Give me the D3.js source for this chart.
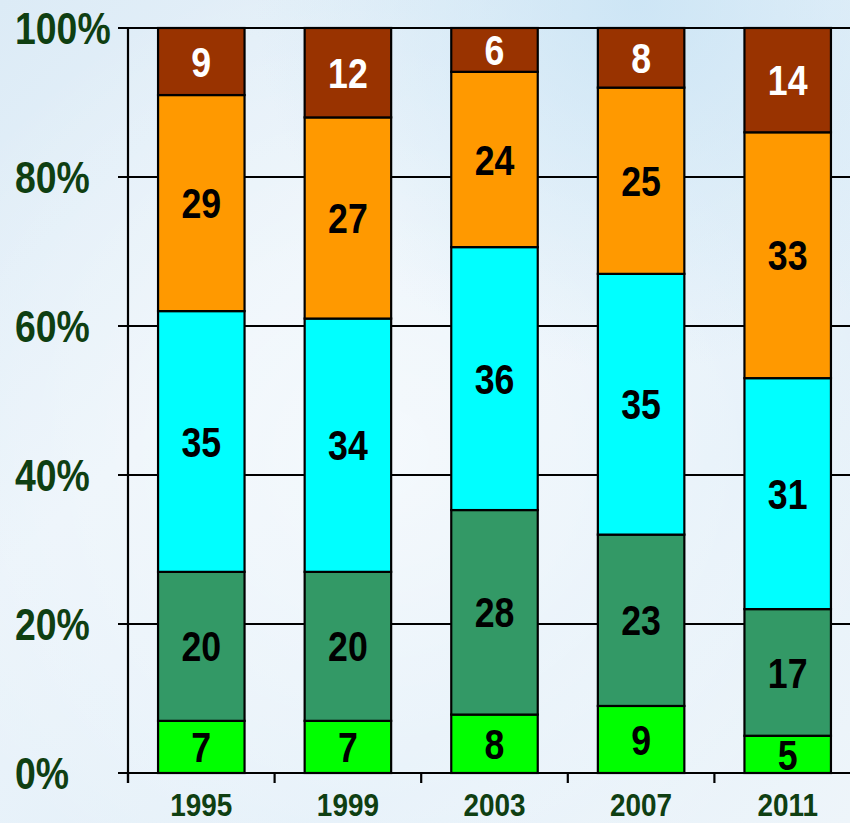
<!DOCTYPE html>
<html>
<head>
<meta charset="utf-8">
<script src="https://cdn.jsdelivr.net/npm/d3@7"></script>
<style>
  html, body { margin: 0; padding: 0; }
  body { width: 850px; height: 823px; overflow: hidden; }
  svg { display: block; }
</style>
</head>
<body>
<svg id="chart" width="850" height="823"></svg>
<script>
// Survey years along the x axis
const years = ["1995", "1999", "2003", "2007", "2011"];

// Shares per year, listed from the bottom segment to the top segment
const seriesA = [7, 7, 8, 9, 5];      // bright green
const seriesB = [20, 20, 28, 23, 17]; // sea green
const seriesC = [35, 34, 36, 35, 31]; // cyan
const seriesD = [29, 27, 24, 25, 33]; // orange
const seriesE = [9, 12, 6, 8, 14];    // brown

const seriesKeys = ["a", "b", "c", "d", "e"];
const seriesValues = [seriesA, seriesB, seriesC, seriesD, seriesE];
const seriesColors = ["#00ff00", "#339966", "#00ffff", "#ff9900", "#993300"];
const labelColors = ["#000000", "#000000", "#000000", "#000000", "#ffffff"];

const yTicks = [0, 0.2, 0.4, 0.6, 0.8, 1];
const yTickLabels = ["0%", "20%", "40%", "60%", "80%", "100%"];

const W = 850, H = 823;
const svg = d3.select("#chart");
const FONT = "'Liberation Sans', Arial, Helvetica, sans-serif";
const SQUEEZE = 0.85;

// Soft pale-blue backdrop
const defs = svg.append("defs");
const bg = defs.append("linearGradient").attr("id", "bg")
  .attr("x1", "0").attr("y1", "0").attr("x2", "1").attr("y2", "1");
bg.append("stop").attr("offset", "0").attr("stop-color", "#dcebf6");
bg.append("stop").attr("offset", "0.35").attr("stop-color", "#eaf3fa");
bg.append("stop").attr("offset", "0.7").attr("stop-color", "#e4f0f9");
bg.append("stop").attr("offset", "1").attr("stop-color", "#eef5fa");
const glow = defs.append("radialGradient").attr("id", "glow")
  .attr("cx", "0.45").attr("cy", "0.55").attr("r", "0.6");
glow.append("stop").attr("offset", "0").attr("stop-color", "#ffffff").attr("stop-opacity", 0.55);
glow.append("stop").attr("offset", "1").attr("stop-color", "#ffffff").attr("stop-opacity", 0);
const topTint = defs.append("radialGradient").attr("id", "topTint")
  .attr("cx", "0.75").attr("cy", "0").attr("r", "0.45");
topTint.append("stop").attr("offset", "0").attr("stop-color", "#c6e2f4").attr("stop-opacity", 0.8);
topTint.append("stop").attr("offset", "1").attr("stop-color", "#c6e2f4").attr("stop-opacity", 0);

svg.append("rect").attr("width", W).attr("height", H).attr("fill", "url(#bg)");
svg.append("rect").attr("width", W).attr("height", H).attr("fill", "url(#glow)");
svg.append("rect").attr("width", W).attr("height", H).attr("fill", "url(#topTint)");

// Scales
const x0 = 128, y0 = 773, yTop = 28;
const x = d3.scaleBand().domain(years).range([x0, x0 + 5 * 146.6])
  .paddingInner(0.41).paddingOuter(0.205);
const y = d3.scaleLinear().domain([0, 1]).range([y0, yTop]);

// Stack normalised to 100%
const table = years.map((yr, i) => {
  const row = { year: yr };
  seriesKeys.forEach((k, j) => { row[k] = seriesValues[j][i]; });
  return row;
});
const stacked = d3.stack().keys(seriesKeys).offset(d3.stackOffsetExpand)(table);

// Horizontal gridlines with left ticks
svg.append("g").selectAll("line").data(yTicks).join("line")
  .attr("x1", x0 - 10).attr("x2", W)
  .attr("y1", d => y(d)).attr("y2", d => y(d))
  .attr("stroke", "#000").attr("stroke-width", 2);

// Bars
const layers = svg.append("g").selectAll("g").data(stacked).join("g")
  .attr("fill", (d, i) => seriesColors[i]);
layers.selectAll("rect").data(d => d).join("rect")
  .attr("x", d => x(d.data.year))
  .attr("width", x.bandwidth())
  .attr("y", d => y(d[1]))
  .attr("height", d => y(d[0]) - y(d[1]))
  .attr("stroke", "#000").attr("stroke-width", 2.2);

// Segment value labels
stacked.forEach((layer, j) => {
  svg.append("g").selectAll("text").data(layer).join("text")
    .attr("transform", d => `translate(${x(d.data.year) + x.bandwidth() / 2},${(y(d[0]) + y(d[1])) / 2}) scale(${SQUEEZE},1)`)
    .attr("dy", "0.36em")
    .attr("text-anchor", "middle")
    .attr("font-family", FONT).attr("font-weight", "bold").attr("font-size", 42)
    .attr("fill", labelColors[j])
    .text(d => d.data[layer.key]);
});

// Axes
const axisColor = "#000";
svg.append("line").attr("x1", x0).attr("x2", x0).attr("y1", yTop).attr("y2", y0 + 10)
  .attr("stroke", axisColor).attr("stroke-width", 2.2);
svg.append("line").attr("x1", x0 - 10).attr("x2", W).attr("y1", y0).attr("y2", y0)
  .attr("stroke", axisColor).attr("stroke-width", 2.2);
const boundaries = d3.range(years.length + 1).map(i => x0 + i * x.step());
svg.append("g").selectAll("line").data(boundaries).join("line")
  .attr("x1", d => d).attr("x2", d => d).attr("y1", y0).attr("y2", y0 + 10)
  .attr("stroke", axisColor).attr("stroke-width", 2.2);

// Y tick labels
svg.append("g").selectAll("text").data(yTicks).join("text")
  .attr("transform", d => `translate(15,${y(d)}) scale(${SQUEEZE},1)`)
  .attr("dy", "0.36em")
  .attr("font-family", FONT).attr("font-weight", "bold").attr("font-size", 44)
  .attr("fill", "#0f3f12")
  .text((d, i) => yTickLabels[i]);

// Year labels
svg.append("g").selectAll("text").data(years).join("text")
  .attr("transform", d => `translate(${x(d) + x.bandwidth() / 2},816) scale(0.9,1)`)
  .attr("text-anchor", "middle")
  .attr("font-family", FONT).attr("font-weight", "bold").attr("font-size", 31)
  .attr("fill", "#0f3f12")
  .text(d => d);
</script>
</body>
</html>
